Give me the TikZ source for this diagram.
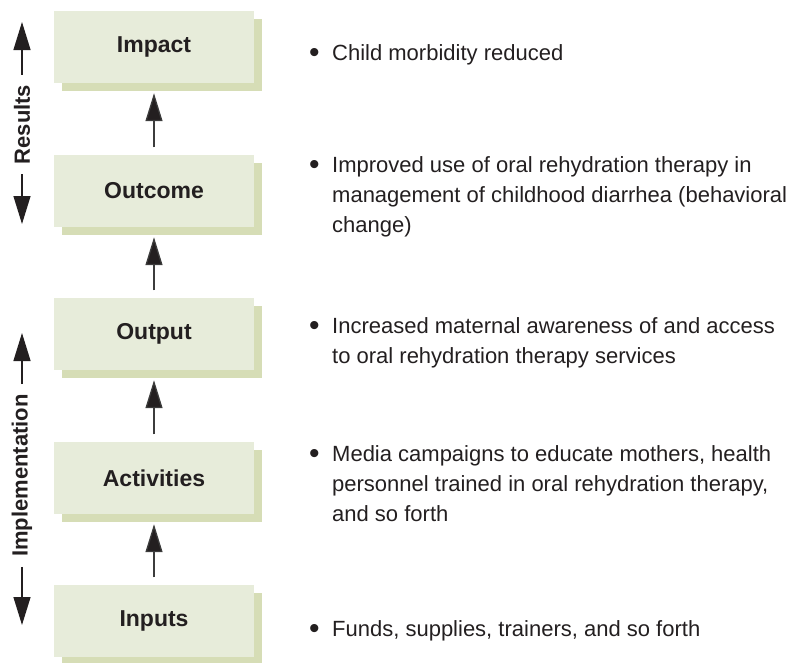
\documentclass[tikz,border=0pt]{standalone}
\usepackage{fontspec}
\setmainfont{Liberation Sans}
\usetikzlibrary{arrows.meta,shadows}
\definecolor{boxc}{RGB}{231,236,218}
\definecolor{shadowc}{RGB}{214,221,182}
\definecolor{txt}{RGB}{35,31,32}
\definecolor{linec}{RGB}{60,60,60}
\tikzset{
  box/.style={minimum width=200pt, minimum height=72pt, inner sep=0pt, fill=boxc,
    text=txt, font=\fontsize{23}{27}\selectfont\bfseries,
    general shadow={fill=shadowc, shadow xshift=8pt, shadow yshift=-8pt}},
  arr/.style={draw=linec, line width=1.3pt, -{Triangle[length=28pt,width=17pt,fill=txt]}},
  sidelabel/.style={rotate=90, inner xsep=10pt, inner ysep=0pt, text=txt,
    font=\fontsize{22}{26}\selectfont\bfseries},
  desc/.style={anchor=base west, inner sep=0pt, text=txt,
    font=\fontsize{22}{30}\selectfont}
}
\newcommand{\bulitem}[1]{\makebox[23pt][l]{\raisebox{-2.5pt}{\fontsize{30}{30}\selectfont •}}\parbox[t]{470pt}{\raggedright #1}}
\begin{document}
\begin{tikzpicture}[x=1pt,y=-1pt]
\useasboundingbox (0,0) rectangle (797,662);
% boxes
\node[box] (impact) at (154,47) {Impact};
\node[box] (outcome) at (154,191) {Outcome};
\node[box] (output) at (154,334) {Output};
\node[box] (activities) at (154,478) {Activities};
\node[box] (inputs) at (154,621) {Inputs};
% connectors between boxes
\draw[arr] ([yshift=7.5pt]outcome.north) -- ([yshift=-10pt]impact.south);
\draw[arr] ([yshift=7.5pt]output.north) -- ([yshift=-10pt]outcome.south);
\draw[arr] ([yshift=7.5pt]activities.north) -- ([yshift=-10pt]output.south);
\draw[arr] ([yshift=7.5pt]inputs.north) -- ([yshift=-10pt]activities.south);
% side labels
\node[sidelabel] (res) at (22,124.5) {Results};
\coordinate (restop) at (22,22);
\coordinate (resbot) at (22,224);
\draw[arr, draw=txt] (res.east) -- (restop);
\draw[arr, draw=txt] (res.west) -- (resbot);
\node[sidelabel] (impl) at (22,475.5) {Implementation};
\coordinate (impltop) at (22,333);
\coordinate (implbot) at (22,625);
\draw[arr, draw=txt] (impl.east) -- (impltop);
\draw[arr, draw=txt] (impl.west) -- (implbot);
% descriptions
\node[desc] (d1) at (309,60) {\bulitem{Child morbidity reduced}};
\node[desc] (d2) at (309,172) {\bulitem{Improved use of oral rehydration therapy in\\management of childhood diarrhea (behavioral\\change)}};
\node[desc] (d3) at (309,333) {\bulitem{Increased maternal awareness of and access\\to oral rehydration therapy services}};
\node[desc] (d4) at (309,461) {\bulitem{Media campaigns to educate mothers, health\\personnel trained in oral rehydration therapy,\\and so forth}};
\node[desc] (d5) at (309,636) {\bulitem{Funds, supplies, trainers, and so forth}};
\end{tikzpicture}
\end{document}
